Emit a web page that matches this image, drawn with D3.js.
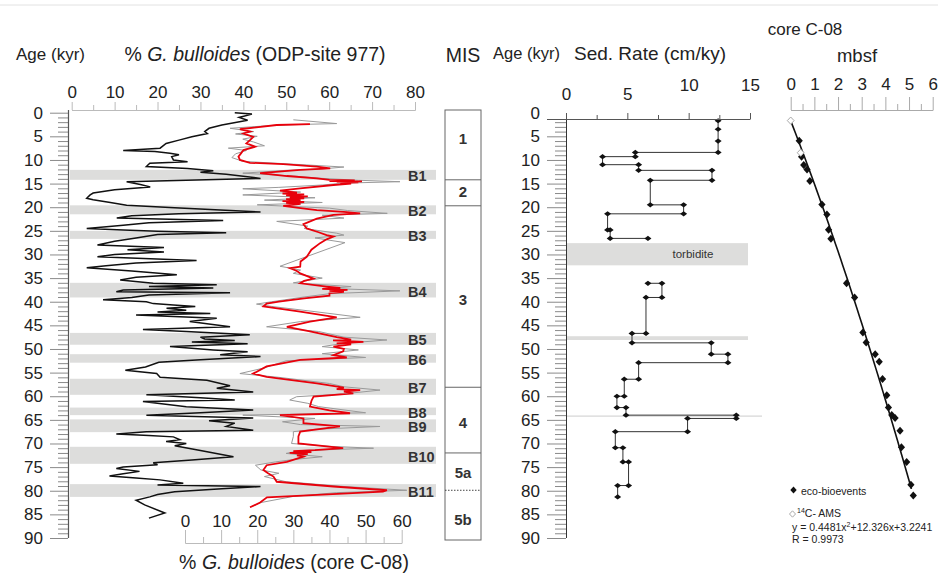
<!DOCTYPE html>
<html lang="en">
<head>
<meta charset="utf-8">
<title>Core C-08 age model</title>
<script src="https://cdn.jsdelivr.net/npm/d3@7"></script>
<style>
    body { margin: 0; background: #fff; }
    svg { font-family: "Liberation Sans", Arial, sans-serif; }
</style>
</head>
<body>
<script>
// % G. bulloides, ODP-site 977 : [age kyr, %]
var odpSeries = [
    [0, 38],[0.3, 42],[1.0, 39],[1.6, 41],[2.6, 35],[3.3, 32],[4.0, 31],[4.4, 31.6],[5.1, 28],[5.8, 25],
    [6.5, 22],[7.5, 20.6],[8.0, 12],[8.2, 19.4],[8.6, 22.9],[8.9, 25],[9.3, 23.3],[10.0, 23.7],[10.4, 27],
    [10.7, 18.2],[11.4, 17.4],[11.8, 27],[12.3, 33],[12.6, 30],[13.0, 36],[13.9, 44],[14.6, 12.8],[15.2, 16],
    [15.7, 18.3],[16.3, 10],[17.0, 5],[17.4, 4.3],[18.1, 3.5],[18.4, 5],[19.0, 9],[19.6, 12.8],[20.1, 24],
    [20.6, 34.6],[21.0, 44],[21.4, 25],[21.8, 14],[22.3, 10.5],[22.8, 35.3],[23.3, 18],[23.8, 12],[24.5, 3.5],
    [24.8, 12],[25.1, 20],[25.4, 36],[25.8, 20],[26.5, 15],[27.2, 10],[28.0, 6],[28.5, 21.5],[29.0, 13],
    [29.5, 21.5],[30.0, 10],[30.5, 6],[31.3, 29.1],[31.8, 15],[32.4, 8],[32.8, 3.5],[33.5, 14],[34.3, 24.5],
    [34.8, 15],[35.4, 11.3],[36.1, 19],[36.4, 33.8],[36.8, 18],[37.1, 33],[37.5, 12],[37.9, 10.4],[38.1, 36.9],
    [38.6, 18],[39.1, 14],[39.6, 7.3],[40.0, 17.4],[40.4, 19],[40.7, 23.7],[41.0, 28.8],[41.4, 22.1],[41.8, 26.7],
    [42.2, 20],[42.5, 32.3],[42.8, 15],[43.2, 25.2],[43.5, 33.8],[44.2, 27.5],[45.3, 36.9],[45.9, 16.6],
    [46.3, 26.7],[47.0, 41.5],[47.5, 30],[47.9, 31],[48.2, 38],[48.5, 28],[48.9, 41],[49.5, 22.9],[50.2, 33],
    [50.6, 41],[51.2, 34.6],[51.6, 44],[52.3, 30],[52.8, 20.3],[53.8, 17.2],[54.5, 12.5],[55.2, 19.8],
    [56.0, 20.6],[56.6, 31.5],[57.8, 36.9],[58.3, 33.8],[59.1, 42.3],[59.7, 17.4],[60.3, 30],[60.8, 38],
    [61.1, 16.6],[62.2, 26.7],[62.9, 42.3],[63.5, 30],[64.0, 17.4],[64.6, 42.3],[65.2, 32],[65.7, 38],
    [66.4, 36],[67.2, 42.3],[67.5, 17.4],[68.0, 10.4],[68.3, 18],[68.6, 23.7],[69.2, 25.2],[69.6, 22],
    [70.0, 26.7],[70.5, 24],[71.5, 30],[72.8, 37.7],[73.5, 28],[74.1, 19],[74.5, 20],[75.0, 12],[75.3, 10.4],
    [75.9, 15.8],[76.4, 12],[76.9, 8.8],[77.3, 15],[77.7, 20.6],[78.4, 26],[78.8, 20],[79.1, 44],[79.6, 35],
    [80.2, 24],[80.8, 20],[81.3, 18.2],[82.0, 15],[83.0, 17],[84.7, 21.7],[85.8, 18]
];

// % G. bulloides, core C-08, raw (grey)
var c08Raw = [
    [1.5, 30],[2.3, 42],[2.6, 26],[3.3, 12.5],[4.0, 19],[4.5, 14],[5.0, 20],[5.6, 16],[6.2, 19],[7.0, 22],
    [7.5, 12],[8.0, 17],[8.7, 14],[9.5, 13],[10.3, 16],[10.9, 30],[11.5, 44],[11.9, 38],[12.2, 28],[12.8, 16],
    [13.4, 30],[13.9, 38],[14.3, 48],[14.6, 59.5],[14.9, 44],[15.3, 38],[15.8, 26],[16.1, 16],[16.8, 32],
    [17.4, 16],[18.0, 36],[18.5, 22],[19.0, 38],[19.5, 20],[20.2, 40],[20.7, 45],[21.3, 56],[21.7, 38],
    [22.3, 44],[23.0, 25.4],[24.0, 34],[24.5, 33],[25.5, 42],[25.9, 44],[26.5, 36],[27.5, 44.3],[32.5, 26.3],
    [33.3, 32],[34.0, 30],[35.0, 38],[36.0, 30],[36.8, 46],[37.2, 40],[37.7, 59.5],[38.3, 40],[39.0, 33],
    [40.0, 24],[40.5, 19.8],[41.0, 24],[42.1, 36],[43.3, 48.5],[44.2, 32],[45.3, 22.6],[46.3, 37],[47.5, 44],
    [48.1, 55.9],[48.8, 44],[49.5, 38],[50.2, 48],[51.0, 38],[51.8, 50],[52.5, 28],[54.0, 22],[55.2, 15.2],
    [56.0, 26],[57.3, 40],[58.0, 44],[58.7, 54],[59.5, 44],[60.1, 30.9],[60.8, 29],[61.5, 34],[62.2, 37],
    [63.5, 50],[64.0, 16],[64.7, 36],[65.4, 27],[66.0, 32],[66.4, 54],[67.0, 36],[67.5, 30],[68.5, 30],
    [70.0, 29.5],[70.6, 40],[71.0, 52.2],[71.5, 32],[72.1, 28],[72.8, 38],[73.4, 30],[73.9, 25],[74.6, 19.5],
    [75.6, 21],[76.3, 26],[77.0, 22],[78.1, 28],[79.1, 44],[79.9, 61.4],[80.4, 42],[81.2, 30],[82.5, 21],
    [83.5, 18]
];

// % G. bulloides, core C-08, smoothed (red)
var c08Smooth = [
    [2.4, 34.6],[2.6, 25.4],[3.5, 15.2],[4.0, 18],[4.4, 16.2],[5.1, 18.9],[5.8, 18],[6.5, 17],[7.2, 19.4],
    [7.9, 16.2],[8.6, 15.5],[9.3, 14.8],[10.0, 15.2],[10.6, 18],[10.9, 27.2],[11.4, 36.5],[11.8, 40.2],
    [12.1, 31.9],[12.8, 20.8],[13.4, 28.2],[13.9, 36.5],[14.2, 40],[14.35, 47],[14.45, 40],[14.55, 49],
    [14.65, 42],[14.75, 48],[14.85, 43],[15.0, 46],[15.3, 41.1],[16.0, 31.9],[16.5, 26.3],[16.9, 31],
    [17.1, 27],[17.3, 33],[17.5, 28],[17.7, 34],[17.9, 29],[18.1, 33],[18.3, 28],[18.5, 32],[18.7, 27],
    [18.9, 33],[19.1, 28],[19.3, 32],[19.7, 27.2],[20.2, 32],[20.6, 36.5],[21.0, 44],[21.3, 48.5],[21.6, 41.1],
    [22.4, 36.5],[23.6, 32.8],[24.5, 33.7],[25.3, 37],[25.9, 39.2],[26.2, 41.1],[26.8, 39.2],[27.6, 37.4],
    [29.0, 35],[30.5, 33.7],[31.5, 32],[32.6, 31.9],[32.9, 29.1],[33.5, 31],[34.0, 31.9],[35.1, 35.6],
    [35.6, 33],[36.1, 31.9],[36.8, 39.2],[37.1, 43],[37.3, 38],[37.5, 45],[37.7, 40],[37.9, 44],[38.2, 40],
    [38.7, 40],[39.3, 33],[40.0, 26],[40.4, 22.6],[41.0, 21.7],[42.1, 31.9],[43.3, 42],[44.2, 34.6],
    [45.3, 28.2],[46.3, 34.6],[47.5, 42],[48.0, 46],[48.2, 41],[48.5, 49.4],[48.8, 42],[49.0, 46],[49.5, 41.1],
    [50.0, 44],[50.5, 43.8],[51.3, 41.1],[51.8, 44.8],[52.3, 31.9],[53.7, 22.6],[55.2, 18.9],[55.9, 22.6],
    [57.3, 36.5],[58.2, 44],[58.5, 42],[58.7, 48.5],[59.0, 44],[59.4, 46.6],[60.1, 35.6],[61.0, 35],
    [62.2, 34.6],[63.0, 40],[63.6, 45.7],[64.0, 26.3],[64.7, 32.8],[65.7, 32.8],[66.4, 42.9],[67.5, 31.9],
    [68.5, 31.4],[70.0, 31.4],[71.0, 43.8],[71.4, 36],[71.6, 30],[71.8, 35],[72.0, 29],[72.2, 34],[72.5, 31],
    [72.8, 32.8],[73.9, 28.2],[74.6, 22.6],[75.6, 21.7],[76.3, 23],[77.0, 24.5],[78.1, 25.4],[79.1, 41.1],
    [79.9, 55.9],[80.2, 54.8],[81.4, 22.7],[82.5, 20.8],[83.5, 18]
];

// bioevents B1..B11 (age ranges, kyr)
var bandNames  = ["B1","B2","B3","B4","B5","B6","B7","B8","B9","B10","B11"];
var bandTop    = [12.1, 19.6, 25.0, 36.0, 46.6, 51.1, 56.3, 62.4, 64.9, 70.7, 78.6];
var bandBottom = [14.2, 21.5, 26.7, 39.1, 49.1, 52.9, 59.7, 64.0, 67.6, 74.3, 81.3];

// marine isotope stages
var misNames  = ["1", "2", "3", "4", "5a", "5b"];
var misAge    = [5.4, 16.7, 39.6, 65.6, 76.2, 86.2];
var misBounds = [14.2, 19.7, 58.1, 72.0];
var misDotted = [79.9];

// sedimentation rate, step path (age kyr, cm/ky), above and below the turbidite
var sedAgeA  = [1.7, 3.5, 6.0, 8.4, 8.4, 9.3, 9.3, 11.0, 11.0, 12.2, 12.2, 14.3, 14.3, 19.5, 19.5, 21.4, 21.4, 24.8, 24.8, 26.6, 26.6];
var sedRateA = [12.4, 12.4, 12.4, 12.4, 5.65, 5.65, 2.98, 2.98, 5.92, 5.92, 11.9, 11.9, 6.87, 6.87, 9.59, 9.59, 3.39, 3.39, 3.6, 3.6, 6.68];
var sedAgeB  = [36.1, 36.1, 39.1, 39.1, 46.7, 46.7, 48.7, 48.7, 51.1, 51.1, 52.9, 52.9, 56.4, 56.4, 60.0, 60.0, 62.4, 62.4, 64.0, 64.0, 64.7, 64.7, 67.5, 67.5, 70.9, 70.9, 73.9, 73.9, 78.9, 78.9, 81.3];
var sedRateB = [6.68, 7.82, 7.82, 6.52, 6.52, 5.38, 5.38, 11.84, 11.84, 13.2, 13.2, 5.92, 5.92, 4.75, 4.75, 4.15, 4.15, 4.89, 4.89, 13.88, 13.88, 9.91, 9.91, 4.02, 4.02, 4.64, 4.64, 5.10, 5.10, 4.21, 4.21];
var turbidite = [27.6, 32.3];
var thinBand  = [47.3, 48.1];
var thinLine  = 64.2;

// depth (mbsf) vs age
var ecoMbsf = [0.36, 0.46, 0.55, 0.69, 0.81, 1.32, 1.53, 1.60, 1.70, 2.36, 2.70, 3.05, 3.19, 3.57, 3.74, 3.88, 4.06, 4.13, 4.27, 4.41, 4.62, 4.68, 4.90, 5.08, 5.18];
var ecoAge  = [7.3, 10.5, 12.2, 13.1, 15.4, 20.2, 22.2, 25.3, 27.1, 36.1, 39.0, 46.1, 48.1, 50.5, 52.0, 55.5, 58.8, 61.3, 62.8, 63.4, 66.0, 69.3, 72.3, 76.9, 79.1];
var amsMbsf = [0, 0.42];
var amsAge  = [3.2, 9.7];
var fitCoef = [0.4481, 12.326, 3.2241];   // y = a x^2 + b x + c
var fitRange = [0, 5.1];

// ---------------------------------------------------------------
var svg = d3.select("body").append("svg")
    .attr("width", 938)
    .attr("height", 582);

var y    = d3.scaleLinear().domain([0, 90]).range([112.7, 538]);
var xOdp = d3.scaleLinear().domain([0, 80]).range([71.7, 415]);
var xC08 = d3.scaleLinear().domain([0, 60]).range([185, 401.7]);
var xSed = d3.scaleLinear().domain([0, 15]).range([566, 750]);
var xM   = d3.scaleLinear().domain([0, 6]).range([790.7, 932.7]);
var yM   = d3.scaleLinear().domain([0, 90]).range([104.8, 549.4]);
var fmt  = d3.format("d");

// faint rule at the very top
svg.append("line").attr("x1", 0).attr("x2", 938).attr("y1", 5).attr("y2", 5)
    .style("stroke", "#e2e2e2");

function styleAxis(g, lineColor, textSize) {
    g.select(".domain").style("stroke", lineColor);
    g.selectAll(".tick line").style("stroke", lineColor);
    g.selectAll(".tick text").style("font-size", textSize + "px").style("fill", "#222")
        .style("font-family", "'Liberation Sans', Arial, sans-serif");
}

// ----- left panel: bands -----
var bands = svg.append("g");
bandNames.forEach(function(name, i) {
    bands.append("rect")
        .attr("x", 70).attr("width", 366)
        .attr("y", y(bandTop[i]))
        .attr("height", y(bandBottom[i]) - y(bandTop[i]))
        .style("fill", "#dddddc");
});

// age axis (left panel)
var ageMinor = svg.append("g").attr("transform", "translate(68,0)")
    .call(d3.axisLeft(y).tickValues(d3.range(0, 91).filter(function(d) { return d % 5; }))
        .tickSize(10).tickSizeOuter(0).tickFormat(""));
styleAxis(ageMinor, "#8a8a8a", 17);
ageMinor.select(".domain").remove();
var ageMajor = svg.append("g").attr("transform", "translate(68,0)")
    .call(d3.axisLeft(y).tickValues(d3.range(0, 91, 5)).tickSize(18).tickPadding(7).tickSizeOuter(0).tickFormat(fmt));
styleAxis(ageMajor, "#8a8a8a", 17);
ageMajor.select(".domain").attr("d", "M0.5,110V538").style("stroke", "#555").style("stroke-width", 1.2);

// top axis (ODP 977)
var odpMinor = svg.append("g").attr("transform", "translate(0,110)")
    .call(d3.axisTop(xOdp).tickValues(d3.range(5, 80, 10)).tickSize(5).tickSizeOuter(0).tickFormat(""));
styleAxis(odpMinor, "#bbb", 17);
var odpMajor = svg.append("g").attr("transform", "translate(0,110)")
    .call(d3.axisTop(xOdp).tickValues(d3.range(0, 81, 10)).tickSize(8).tickPadding(4).tickSizeOuter(0).tickFormat(fmt));
styleAxis(odpMajor, "#bbb", 17);

// bottom axis (C-08)
var c08Minor = svg.append("g").attr("transform", "translate(0,543)")
    .call(d3.axisTop(xC08).tickValues(d3.range(5, 60, 10)).tickSize(6).tickSizeOuter(0).tickFormat(""));
styleAxis(c08Minor, "#bbb", 17);
var c08Major = svg.append("g").attr("transform", "translate(0,543)")
    .call(d3.axisTop(xC08).tickValues(d3.range(0, 61, 10)).tickSize(13).tickPadding(3).tickSizeOuter(0).tickFormat(fmt));
styleAxis(c08Major, "#bbb", 17);

// curves
var odpLine = d3.line().x(function(d) { return xOdp(d[1]); }).y(function(d) { return y(d[0]); });
var c08Line = d3.line().x(function(d) { return xC08(d[1]); }).y(function(d) { return y(d[0]); });

svg.append("path").datum(odpSeries).attr("d", odpLine)
    .style("fill", "none").style("stroke", "#111").style("stroke-width", 1.5);
svg.append("path").datum(c08Raw).attr("d", c08Line)
    .style("fill", "none").style("stroke", "#9a9a9a").style("stroke-width", 1);
svg.append("path").datum(c08Smooth).attr("d", c08Line)
    .style("fill", "none").style("stroke", "#e8000b").style("stroke-width", 1.8);

// band labels
bandNames.forEach(function(name, i) {
    svg.append("text")
        .attr("x", 408)
        .attr("y", y((bandTop[i] + bandBottom[i]) / 2 + 0.3))
        .attr("dy", "0.36em")
        .style("font-size", "14.5px").style("font-weight", "bold").style("fill", "#333")
        .text(name);
});

// MIS column
var mis = svg.append("g");
mis.append("rect").attr("x", 445).attr("y", 110).attr("width", 36).attr("height", 430)
    .style("fill", "none").style("stroke", "#666");
misBounds.forEach(function(a) {
    mis.append("line").attr("x1", 445).attr("x2", 481).attr("y1", y(a)).attr("y2", y(a))
        .style("stroke", "#666");
});
misDotted.forEach(function(a) {
    mis.append("line").attr("x1", 445).attr("x2", 481).attr("y1", y(a)).attr("y2", y(a))
        .style("stroke", "#444").style("stroke-dasharray", "1.5,1.5");
});
misNames.forEach(function(n, i) {
    mis.append("text").attr("x", 463).attr("y", y(misAge[i])).attr("dy", "0.36em")
        .attr("text-anchor", "middle")
        .style("font-size", "15px").style("font-weight", "bold").style("fill", "#333")
        .text(n);
});

// titles, left block
svg.append("text").attr("x", 16).attr("y", 60).style("font-size", "17px").style("fill", "#222").text("Age (kyr)");
var t1 = svg.append("text").attr("x", 255).attr("y", 61).attr("text-anchor", "middle")
    .style("font-size", "19.5px").style("fill", "#222");
t1.append("tspan").text("% ");
t1.append("tspan").style("font-style", "italic").text("G. bulloides");
t1.append("tspan").text(" (ODP-site 977)");
svg.append("text").attr("x", 463).attr("y", 62).attr("text-anchor", "middle")
    .style("font-size", "19.5px").style("fill", "#222").text("MIS");
var t2 = svg.append("text").attr("x", 294).attr("y", 569).attr("text-anchor", "middle")
    .style("font-size", "19.5px").style("fill", "#222");
t2.append("tspan").text("% ");
t2.append("tspan").style("font-style", "italic").text("G. bulloides");
t2.append("tspan").text(" (core C-08)");

// ----- sedimentation rate panel -----
var sed = svg.append("g");
sed.append("rect").attr("x", 566).attr("width", 182)
    .attr("y", y(turbidite[0])).attr("height", y(turbidite[1]) - y(turbidite[0]))
    .style("fill", "#dddddc");
sed.append("text").attr("x", 693).attr("y", y((turbidite[0] + turbidite[1]) / 2)).attr("dy", "0.36em")
    .attr("text-anchor", "middle").style("font-size", "11.5px").style("fill", "#333").text("torbidite");
sed.append("rect").attr("x", 566).attr("width", 182)
    .attr("y", y(thinBand[0])).attr("height", y(thinBand[1]) - y(thinBand[0]))
    .style("fill", "#dddddc");
sed.append("line").attr("x1", 566).attr("x2", 762).attr("y1", y(thinLine)).attr("y2", y(thinLine))
    .style("stroke", "#ccc");

var sedMinor = svg.append("g").attr("transform", "translate(566,0)")
    .call(d3.axisLeft(y).tickValues(d3.range(2, 91).filter(function(d) { return d % 5; }))
        .tickSize(11).tickSizeOuter(0).tickFormat(""));
styleAxis(sedMinor, "#8a8a8a", 17);
sedMinor.select(".domain").remove();
var sedAge = svg.append("g").attr("transform", "translate(566,0)")
    .call(d3.axisLeft(y).tickValues(d3.range(0, 91, 5)).tickSize(19).tickPadding(7).tickSizeOuter(0).tickFormat(fmt));
styleAxis(sedAge, "#8a8a8a", 17);
sedAge.select(".domain").attr("d", "M0.5,119V538").style("stroke", "#333");
sedAge.selectAll(".tick").filter(function(d) { return d === 0; }).select("line").remove();

var sedTopMinor = svg.append("g").attr("transform", "translate(0,119)")
    .call(d3.axisTop(xSed).tickValues([2.5, 7.5, 12.5]).tickSize(4).tickSizeOuter(0).tickFormat(""));
styleAxis(sedTopMinor, "#555", 17);
var sedTop = svg.append("g").attr("transform", "translate(0,119)")
    .call(d3.axisTop(xSed).tickValues([0, 5, 10, 15]).tickSize(6).tickPadding(13).tickSizeOuter(0).tickFormat(fmt));
styleAxis(sedTop, "#555", 17);
sedTop.select(".domain").attr("d", "M547,0.5H750");
sedTop.selectAll(".tick text").attr("dy", function(d) { return d >= 10 ? "-0.55em" : "0em"; });

var sedLine = d3.line().x(function(d) { return xSed(d[1]); }).y(function(d) { return y(d[0]); });
var diamond = "M-3.5,0L0,-2.6L3.5,0L0,2.6Z";
[[sedAgeA, sedRateA], [sedAgeB, sedRateB]].forEach(function(s) {
    var pts = s[0].map(function(a, i) { return [a, s[1][i]]; });
    sed.append("path").datum(pts).attr("d", sedLine)
        .style("fill", "none").style("stroke", "#333").style("stroke-width", 1);
    sed.selectAll(null).data(pts).enter().append("path")
        .attr("d", diamond)
        .attr("transform", function(d) { return "translate(" + xSed(d[1]) + "," + y(d[0]) + ")"; })
        .style("fill", "#111");
});

svg.append("text").attr("x", 493).attr("y", 59).style("font-size", "16.5px").style("fill", "#222").text("Age (kyr)");
svg.append("text").attr("x", 574).attr("y", 60).style("font-size", "19px").style("fill", "#222").text("Sed. Rate (cm/ky)");
svg.append("text").attr("x", 805).attr("y", 35).attr("text-anchor", "middle")
    .style("font-size", "17px").style("fill", "#222").text("core C-08");

// ----- mbsf panel -----
var mMinor = svg.append("g").attr("transform", "translate(0,110)")
    .call(d3.axisTop(xM).tickValues(d3.range(0.5, 6, 1)).tickSize(6).tickSizeOuter(0).tickFormat(""));
styleAxis(mMinor, "#aaa", 17);
var mMajor = svg.append("g").attr("transform", "translate(0,110)")
    .call(d3.axisTop(xM).tickValues(d3.range(0, 7)).tickSize(13).tickPadding(7).tickSizeOuter(0).tickFormat(fmt));
styleAxis(mMajor, "#aaa", 17);
svg.append("text").attr("x", 857).attr("y", 62).attr("text-anchor", "middle")
    .style("font-size", "18.5px").style("fill", "#222").text("mbsf");

var fitPts = d3.range(fitRange[0], fitRange[1] + 0.001, 0.1).map(function(m) {
    return [fitCoef[0] * m * m + fitCoef[1] * m + fitCoef[2], m];
});
svg.append("path").datum(fitPts)
    .attr("d", d3.line().x(function(d) { return xM(d[1]); }).y(function(d) { return yM(d[0]); }))
    .style("fill", "none").style("stroke", "#111").style("stroke-width", 1.6);

var bigDiamond = "M-3.6,0L0,-4L3.6,0L0,4Z";
var openDiamond = "M-3.4,0L0,-3.6L3.4,0L0,3.6Z";
svg.selectAll(null).data(ecoMbsf).enter().append("path")
    .attr("d", bigDiamond)
    .attr("transform", function(d, i) { return "translate(" + xM(d) + "," + yM(ecoAge[i]) + ")"; })
    .style("fill", "#111");
svg.selectAll(null).data(amsMbsf).enter().append("path")
    .attr("d", openDiamond)
    .attr("transform", function(d, i) { return "translate(" + xM(d) + "," + yM(amsAge[i]) + ")"; })
    .style("fill", "#fff").style("stroke", "#aaa");

// legend
var leg = svg.append("g").style("font-size", "10.5px").style("fill", "#222");
leg.append("path").attr("d", "M-3.2,0L0,-3.6L3.2,0L0,3.6Z").attr("transform", "translate(793.5,490)").style("fill", "#111");
leg.append("text").attr("x", 801).attr("y", 495).text("eco-bioevents");
leg.append("path").attr("d", "M-3,0L0,-3.2L3,0L0,3.2Z").attr("transform", "translate(792.5,514)")
    .style("fill", "#fff").style("stroke", "#aaa");
var ams = leg.append("text").attr("x", 797).attr("y", 517);
ams.append("tspan").style("font-size", "7px").attr("dy", "-4").text("14");
ams.append("tspan").attr("dy", "4").text("C- AMS");
var eq = leg.append("text").attr("x", 792).attr("y", 531);
eq.append("tspan").text("y = 0.4481x");
eq.append("tspan").style("font-size", "7px").attr("dy", "-4").text("2");
eq.append("tspan").attr("dy", "4").text("+12.326x+3.2241");
leg.append("text").attr("x", 792).attr("y", 543).text("R = 0.9973");
</script>
</body>
</html>
